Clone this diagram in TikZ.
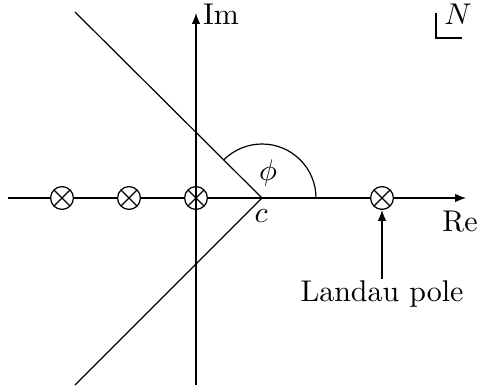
\documentclass[tikz,border=0pt]{standalone}
\usetikzlibrary{arrows.meta}
\begin{document}
\begin{tikzpicture}[x=0.3333pt,y=-0.3333pt,
  axis/.style={line width=0.4pt,-{Latex[length=3.6pt,width=2.8pt]}},
  pole/.style={circle,draw,line width=0.4pt,minimum size=7.6pt,inner sep=0pt,fill=white,
    path picture={\draw[line width=0.4pt] (path picture bounding box.north west) -- (path picture bounding box.south east)
      (path picture bounding box.north east) -- (path picture bounding box.south west);}},
  lbl/.style={inner sep=0pt}]
\useasboundingbox (0,0) rectangle (478,390);
% axes
\coordinate (xl) at (8,198);
\coordinate (xr) at (466,198);
\coordinate (yb) at (196,385);
\coordinate (yt) at (196,13);
\draw[axis] (xl) -- (xr);
\draw[axis] (yb) -- (yt);
% wedge
\coordinate (c) at (262,198);
\coordinate (ul) at (75,12);
\coordinate (ll) at (75,385);
\draw[line width=0.4pt] (ul) -- (c) -- (ll);
\draw[line width=0.4pt] (c) ++(54,0) arc[start angle=0,end angle=-135,radius=54];
% poles
\node[pole] (p1) at (62,198) {};
\node[pole] (p2) at (129,198) {};
\node[pole] (p3) at (196,198) {};
\node[pole] (p4) at (382,198) {};
\draw[line width=0.4pt] (p3.north) -- (p3.south);
% labels
\node[lbl] (im) at (221,14) {Im};
\node[lbl] (re) at (460,222) {Re};
\node[lbl] (cl) at (261,216) {$c$};
\node[lbl] (phi) at (268,173) {$\phi$};
\node[lbl] (lp) at (382,294) {Landau pole};
\coordinate (lps) at (382,279);
\draw[axis] (lps) -- (p4.south);
% N box
\node[lbl] (N) at (458,14) {$N$};
\coordinate (n1) at (436,13);
\coordinate (n2) at (436,38);
\coordinate (n3) at (462,38);
\draw[line width=0.4pt] (n1) -- (n2) -- (n3);
\end{tikzpicture}
\end{document}
